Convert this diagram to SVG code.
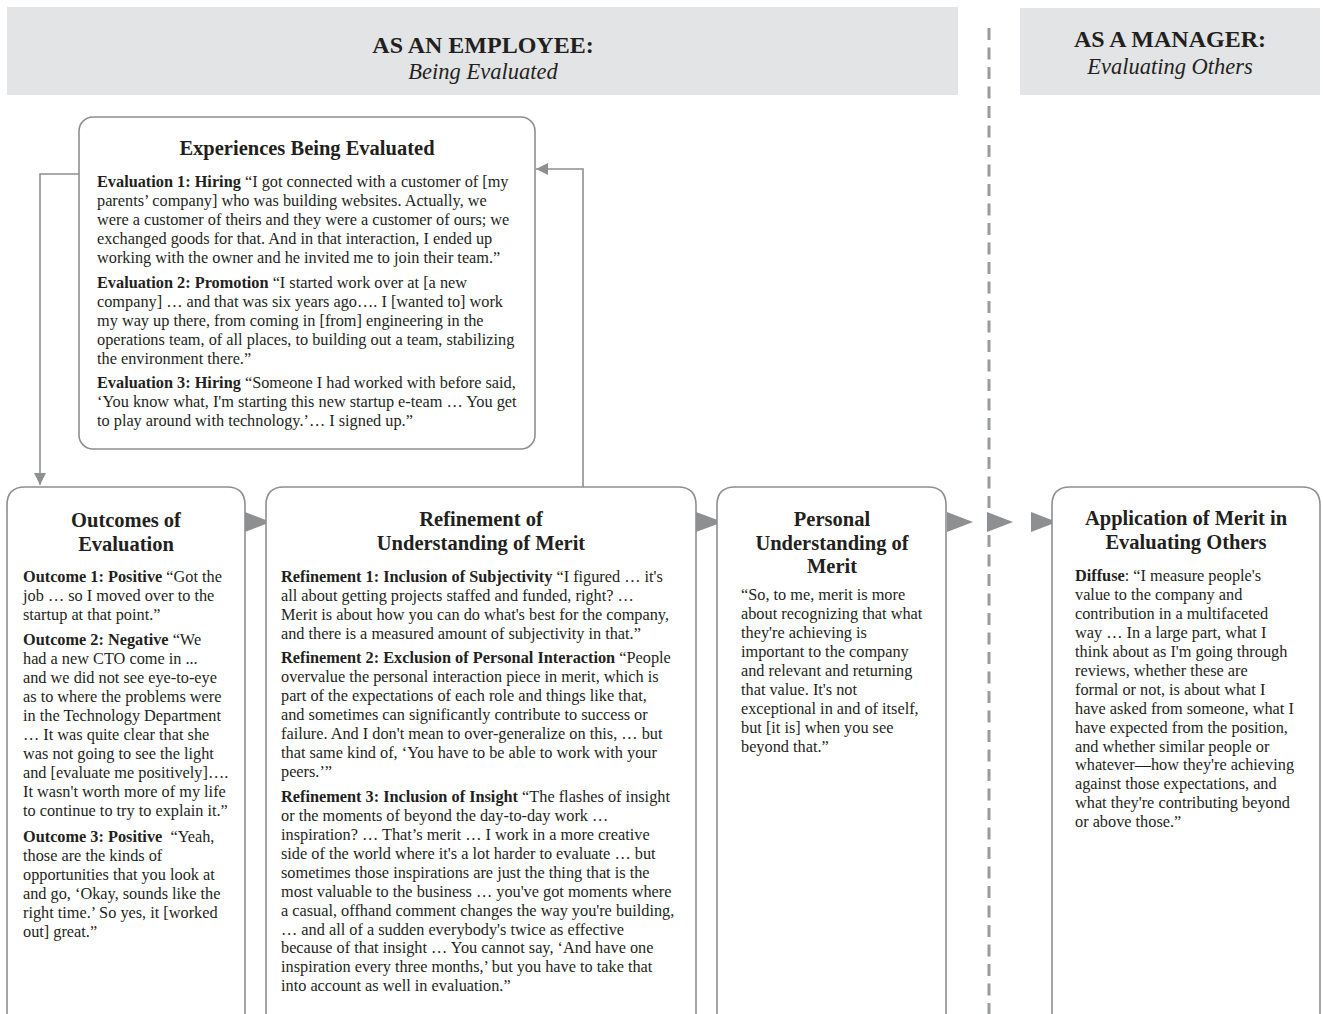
<svg xmlns="http://www.w3.org/2000/svg" width="1323" height="1014" viewBox="0 0 1323 1014">
  <style>
    .band { fill: #e3e4e5; }
    .box { fill: #ffffff; stroke: #8e8f91; stroke-width: 1.6; }
    .head { font-family: "Liberation Serif", "Times New Roman", serif; font-weight: bold; font-size: 24px; fill: #231f20; text-anchor: middle; }
    .sub { font-family: "Liberation Serif", "Times New Roman", serif; font-style: italic; font-size: 22.5px; fill: #231f20; text-anchor: middle; }
    .title { font-family: "Liberation Serif", "Times New Roman", serif; font-weight: bold; font-size: 20.5px; fill: #231f20; text-anchor: middle; }
    .body { font-family: "Liberation Serif", "Times New Roman", serif; font-size: 16.3px; fill: #231f20; }
    .body tspan.b { font-weight: bold; }
    .wire { fill: none; stroke: #8e8f91; stroke-width: 1.6; }
    .tri { fill: #8e8f91; }
    .divider { fill: none; stroke: #9a9b9d; stroke-width: 3; stroke-dasharray: 12 7.5; }
  </style>
  <defs>
    <marker id="head" viewBox="0 0 12 12" refX="12" refY="6" markerWidth="12" markerHeight="12" markerUnits="userSpaceOnUse" orient="auto">
      <path d="M0,0 L12,6 L0,12 Z" fill="#8e8f91"/>
    </marker>
  </defs>

  <!-- column headers -->
  <g id="header-employee">
    <rect class="band" x="7" y="7" width="951" height="88"/>
    <text class="head" x="483" y="53">AS AN EMPLOYEE:</text>
    <text class="sub" x="483" y="79">Being Evaluated</text>
  </g>
  <g id="header-manager">
    <rect class="band" x="1020" y="8" width="300" height="87"/>
    <text class="head" x="1170" y="47">AS A MANAGER:</text>
    <text class="sub" x="1170" y="74">Evaluating Others</text>
  </g>

  <!-- employee / manager divider -->
  <line class="divider" x1="989" y1="28" x2="989" y2="1014"/>

  <!-- connectors -->
  <g id="connectors">
    <polyline class="wire" points="79,174 40,174 40,485" marker-end="url(#head)"/>
    <polyline class="wire" points="583,487 583,169 536,169" marker-end="url(#head)"/>
    <path class="tri" d="M245,512 L271,522 L245,532 Z"/>
    <path class="tri" d="M696,512 L723,522 L696,532 Z"/>
    <path class="tri" d="M947,512 L973,522 L947,532 Z"/>
    <path class="tri" d="M987,512 L1013,522 L987,532 Z"/>
    <path class="tri" d="M1031,512 L1057,522 L1031,532 Z"/>
  </g>

  <!-- Experiences Being Evaluated -->
  <g id="experiences">
    <rect class="box" x="79" y="117" width="456" height="332" rx="14"/>
    <text class="title" x="307" y="155">Experiences Being Evaluated</text>
    <text class="body">
      <tspan x="97" y="187"><tspan class="b">Evaluation 1: Hiring</tspan> “I got connected with a customer of [my</tspan>
      <tspan x="97" y="206">parents’ company] who was building websites. Actually, we</tspan>
      <tspan x="97" y="225">were a customer of theirs and they were a customer of ours; we</tspan>
      <tspan x="97" y="244">exchanged goods for that. And in that interaction, I ended up</tspan>
      <tspan x="97" y="263">working with the owner and he invited me to join their team.”</tspan>
      <tspan x="97" y="288"><tspan class="b">Evaluation 2: Promotion</tspan> “I started work over at [a new</tspan>
      <tspan x="97" y="307">company] … and that was six years ago…. I [wanted to] work</tspan>
      <tspan x="97" y="326">my way up there, from coming in [from] engineering in the</tspan>
      <tspan x="97" y="345">operations team, of all places, to building out a team, stabilizing</tspan>
      <tspan x="97" y="364">the environment there.”</tspan>
      <tspan x="97" y="388"><tspan class="b">Evaluation 3: Hiring</tspan> “Someone I had worked with before said,</tspan>
      <tspan x="97" y="407">‘You know what, I'm starting this new startup e-team … You get</tspan>
      <tspan x="97" y="426">to play around with technology.’… I signed up.”</tspan>
    </text>
  </g>

  <!-- Outcomes of Evaluation -->
  <g id="outcomes">
    <path class="box" d="M7,1020 L7,505 Q7,487 25,487 L227,487 Q245,487 245,505 L245,1020"/>
    <text class="title" x="126" y="527">Outcomes of</text>
    <text class="title" x="126" y="551">Evaluation</text>
    <text class="body">
      <tspan x="23" y="582"><tspan class="b">Outcome 1: Positive</tspan> “Got the</tspan>
      <tspan x="23" y="601">job … so I moved over to the</tspan>
      <tspan x="23" y="620">startup at that point.”</tspan>
      <tspan x="23" y="645"><tspan class="b">Outcome 2: Negative</tspan> “We</tspan>
      <tspan x="23" y="664">had a new CTO come in ...</tspan>
      <tspan x="23" y="683">and we did not see eye-to-eye</tspan>
      <tspan x="23" y="702">as to where the problems were</tspan>
      <tspan x="23" y="721">in the Technology Department</tspan>
      <tspan x="23" y="740">… It was quite clear that she</tspan>
      <tspan x="23" y="759">was not going to see the light</tspan>
      <tspan x="23" y="778">and [evaluate me positively]….</tspan>
      <tspan x="23" y="797">It wasn't worth more of my life</tspan>
      <tspan x="23" y="816">to continue to try to explain it.”</tspan>
      <tspan x="23" y="842"><tspan class="b">Outcome 3: Positive</tspan>&#160; “Yeah,</tspan>
      <tspan x="23" y="861">those are the kinds of</tspan>
      <tspan x="23" y="880">opportunities that you look at</tspan>
      <tspan x="23" y="899">and go, ‘Okay, sounds like the</tspan>
      <tspan x="23" y="918">right time.’ So yes, it [worked</tspan>
      <tspan x="23" y="937">out] great.”</tspan>
    </text>
  </g>

  <!-- Refinement of Understanding of Merit -->
  <g id="refinement">
    <path class="box" d="M266,1020 L266,505 Q266,487 284,487 L678,487 Q696,487 696,505 L696,1020"/>
    <text class="title" x="481" y="526">Refinement of</text>
    <text class="title" x="481" y="550">Understanding of Merit</text>
    <text class="body">
      <tspan x="281" y="582"><tspan class="b">Refinement 1: Inclusion of Subjectivity</tspan> “I figured … it's</tspan>
      <tspan x="281" y="601">all about getting projects staffed and funded, right? …</tspan>
      <tspan x="281" y="620">Merit is about how you can do what's best for the company,</tspan>
      <tspan x="281" y="639">and there is a measured amount of subjectivity in that.”</tspan>
      <tspan x="281" y="663"><tspan class="b">Refinement 2: Exclusion of Personal Interaction</tspan> “People</tspan>
      <tspan x="281" y="682">overvalue the personal interaction piece in merit, which is</tspan>
      <tspan x="281" y="701">part of the expectations of each role and things like that,</tspan>
      <tspan x="281" y="720">and sometimes can significantly contribute to success or</tspan>
      <tspan x="281" y="739">failure. And I don't mean to over-generalize on this, … but</tspan>
      <tspan x="281" y="758">that same kind of, ‘You have to be able to work with your</tspan>
      <tspan x="281" y="777">peers.’”</tspan>
      <tspan x="281" y="802"><tspan class="b">Refinement 3: Inclusion of Insight</tspan> “The flashes of insight</tspan>
      <tspan x="281" y="821">or the moments of beyond the day-to-day work …</tspan>
      <tspan x="281" y="840">inspiration? … That’s merit … I work in a more creative</tspan>
      <tspan x="281" y="859">side of the world where it's a lot harder to evaluate … but</tspan>
      <tspan x="281" y="878">sometimes those inspirations are just the thing that is the</tspan>
      <tspan x="281" y="897">most valuable to the business … you've got moments where</tspan>
      <tspan x="281" y="916">a casual, offhand comment changes the way you're building,</tspan>
      <tspan x="281" y="935">… and all of a sudden everybody's twice as effective</tspan>
      <tspan x="281" y="953">because of that insight … You cannot say, ‘And have one</tspan>
      <tspan x="281" y="972">inspiration every three months,’ but you have to take that</tspan>
      <tspan x="281" y="991">into account as well in evaluation.”</tspan>
    </text>
  </g>

  <!-- Personal Understanding of Merit -->
  <g id="personal">
    <path class="box" d="M717,1020 L717,505 Q717,487 735,487 L928,487 Q946,487 946,505 L946,1020"/>
    <text class="title" x="832" y="526">Personal</text>
    <text class="title" x="832" y="550">Understanding of</text>
    <text class="title" x="832" y="573">Merit</text>
    <text class="body">
      <tspan x="741" y="600">“So, to me, merit is more</tspan>
      <tspan x="741" y="619">about recognizing that what</tspan>
      <tspan x="741" y="638">they're achieving is</tspan>
      <tspan x="741" y="657">important to the company</tspan>
      <tspan x="741" y="676">and relevant and returning</tspan>
      <tspan x="741" y="695">that value. It's not</tspan>
      <tspan x="741" y="714">exceptional in and of itself,</tspan>
      <tspan x="741" y="733">but [it is] when you see</tspan>
      <tspan x="741" y="752">beyond that.”</tspan>
    </text>
  </g>

  <!-- Application of Merit in Evaluating Others -->
  <g id="application">
    <path class="box" d="M1052,1020 L1052,505 Q1052,487 1070,487 L1302,487 Q1320,487 1320,505 L1320,1020"/>
    <text class="title" x="1186" y="525">Application of Merit in</text>
    <text class="title" x="1186" y="549">Evaluating Others</text>
    <text class="body">
      <tspan x="1075" y="581"><tspan class="b">Diffuse</tspan>: “I measure people's</tspan>
      <tspan x="1075" y="600">value to the company and</tspan>
      <tspan x="1075" y="619">contribution in a multifaceted</tspan>
      <tspan x="1075" y="638">way … In a large part, what I</tspan>
      <tspan x="1075" y="657">think about as I'm going through</tspan>
      <tspan x="1075" y="676">reviews, whether these are</tspan>
      <tspan x="1075" y="695">formal or not, is about what I</tspan>
      <tspan x="1075" y="714">have asked from someone, what I</tspan>
      <tspan x="1075" y="733">have expected from the position,</tspan>
      <tspan x="1075" y="752">and whether similar people or</tspan>
      <tspan x="1075" y="770">whatever—how they're achieving</tspan>
      <tspan x="1075" y="789">against those expectations, and</tspan>
      <tspan x="1075" y="808">what they're contributing beyond</tspan>
      <tspan x="1075" y="827">or above those.”</tspan>
    </text>
  </g>
</svg>
